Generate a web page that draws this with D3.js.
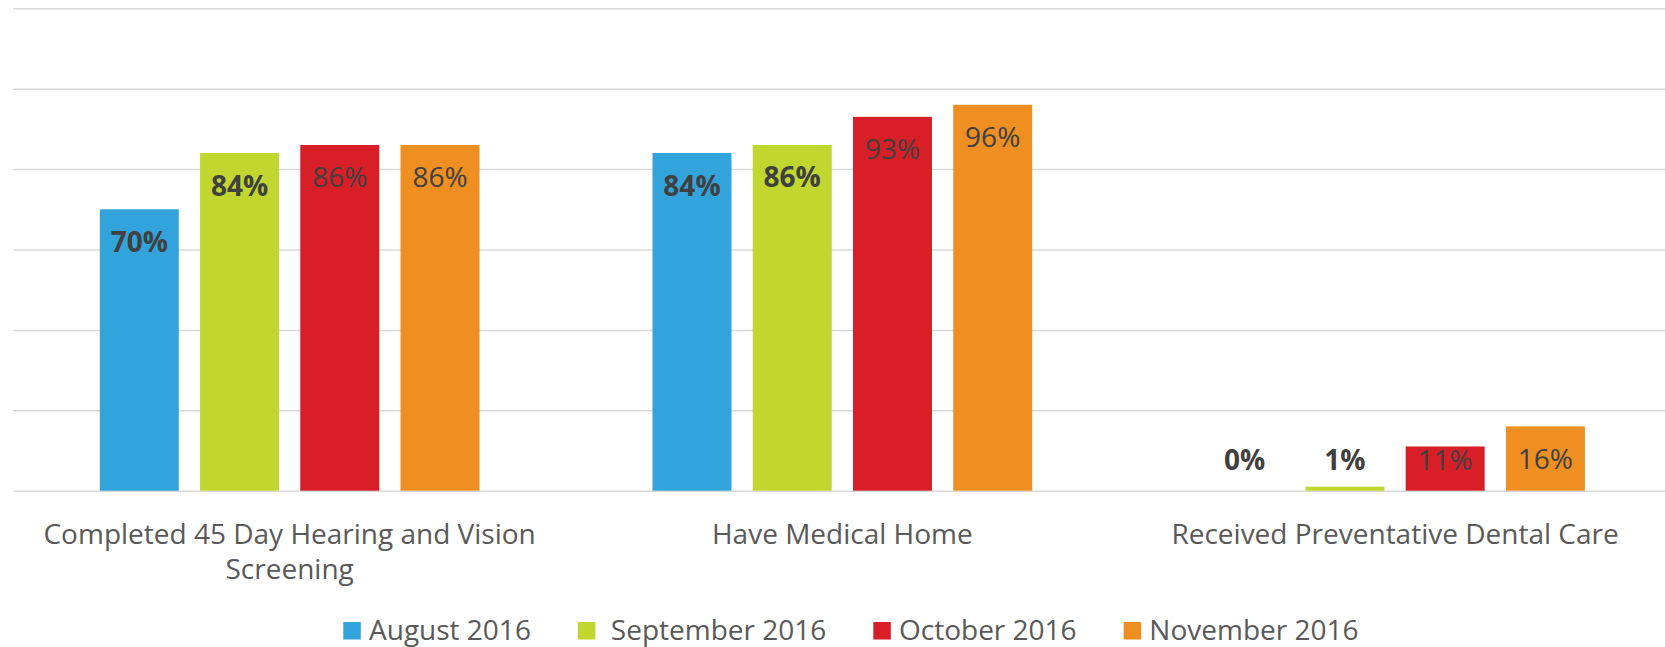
<!DOCTYPE html>
<html>
<head>
<meta charset="utf-8">
<script src="https://cdnjs.cloudflare.com/ajax/libs/d3/7.8.5/d3.min.js"></script>
<style>
  body { margin: 0; background: #fff; }
  svg { display: block; font-family: "Open Sans", sans-serif; }
</style>
</head>
<body>
<div id="chart"></div>
<script>
// data
var categories = ["Completed 45 Day Hearing and Vision Screening", "Have Medical Home", "Received Preventative Dental Care"];
var seriesNames = ["August 2016", " September 2016", "October 2016", "November 2016"];
var august = [0.70, 0.84, 0.00];
var september = [0.84, 0.86, 0.01];
var october = [0.86, 0.93, 0.11];
var november = [0.86, 0.96, 0.16];
var yTicks = [0, 0.2, 0.4, 0.6, 0.8, 1.0, 1.2];

var seriesValues = [august, september, october, november];
var colors = ["#33a3dc", "#c1d72f", "#d81f28", "#ef8f22"];
var boldLabels = [true, true, false, false];

var width = 1665, height = 647;
var left = 13.3, bandW = 552.7;

var svg = d3.select("#chart").append("svg")
  .attr("width", width)
  .attr("height", height);

var x0 = d3.scaleBand()
  .domain(categories)
  .range([left, left + bandW * categories.length])
  .padding(0);

var x1 = d3.scaleBand()
  .domain(seriesNames)
  .range([86.5, bandW - 86.5])
  .paddingInner(0.212)
  .paddingOuter(0);

var y = d3.scaleLinear()
  .domain([0, 1.2])
  .range([490.7, 8.3]);

// gridlines
var grid = svg.append("g")
  .attr("transform", "translate(" + left + ",0)")
  .call(d3.axisLeft(y).tickValues(yTicks).tickSize(-(width - left)).tickFormat(""));
grid.select(".domain").remove();
grid.selectAll("line")
  .attr("stroke", "#d9d9d9")
  .attr("stroke-width", 1.5);

// bars + labels
var groups = svg.selectAll("g.cat")
  .data(categories)
  .enter().append("g")
  .attr("class", "cat")
  .attr("transform", function(d) { return "translate(" + x0(d) + ",0)"; });

groups.each(function(cat, i) {
  var g = d3.select(this);
  var rows = seriesNames.map(function(s, j) {
    return { series: s, j: j, value: seriesValues[j][i] };
  });

  g.selectAll("rect")
    .data(rows)
    .enter().append("rect")
    .attr("x", function(d) { return x1(d.series); })
    .attr("y", function(d) { return y(d.value); })
    .attr("width", x1.bandwidth())
    .attr("height", function(d) { return y(0) - y(d.value); })
    .attr("fill", function(d) { return colors[d.j]; });

  // inside end, but kept above the base for short bars
  g.selectAll("text.lbl")
    .data(rows)
    .enter().append("text")
    .attr("class", "lbl")
    .attr("x", function(d) { return x1(d.series) + x1.bandwidth() / 2; })
    .attr("y", function(d) { return Math.min(y(d.value) + 42.5, y(0) - 20.3); })
    .attr("text-anchor", "middle")
    .attr("font-size", 28)
    .attr("font-weight", function(d) { return boldLabels[d.j] ? "bold" : "normal"; })
    .attr("fill", "#404040")
    .text(function(d) { return Math.round(d.value * 100) + "%"; });
});

// category labels, wrapped to the band width
svg.selectAll("text.cat")
  .data(categories)
  .enter().append("text")
  .attr("class", "cat")
  .attr("x", function(d) { return x0(d) + bandW / 2; })
  .attr("y", 544)
  .attr("text-anchor", "middle")
  .attr("font-size", 28)
  .attr("fill", "#595959")
  .each(function(d) {
    var text = d3.select(this);
    var words = d.split(" ");
    var line = [];
    var tspan = text.append("tspan").attr("x", text.attr("x")).attr("dy", 0);
    for (var k = 0; k < words.length; k++) {
      line.push(words[k]);
      tspan.text(line.join(" "));
      if (tspan.node().getComputedTextLength() > bandW - 20 && line.length > 1) {
        line.pop();
        tspan.text(line.join(" "));
        line = [words[k]];
        tspan = text.append("tspan").attr("x", text.attr("x")).attr("dy", 35).text(words[k]);
      }
    }
  });

// legend
var legend = svg.append("g").attr("class", "legend");
var lx = 343.3;
for (var j = 0; j < seriesNames.length; j++) {
  legend.append("rect")
    .attr("x", lx)
    .attr("y", 622)
    .attr("width", 17.5)
    .attr("height", 17.5)
    .attr("fill", colors[j]);
  var t = legend.append("text")
    .attr("x", lx + 25.7)
    .attr("y", 640)
    .attr("font-size", 28)
    .attr("fill", "#595959")
    .style("white-space", "pre")
    .text(seriesNames[j]);
  lx = lx + 25.7 + t.node().getComputedTextLength() + 47;
}
</script>
</body>
</html>
